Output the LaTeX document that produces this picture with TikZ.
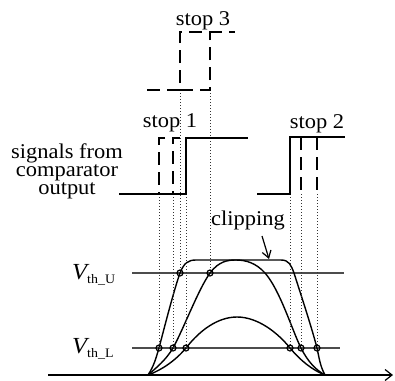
\documentclass[tikz,border=0pt]{standalone}
\usepackage{fontspec}
\setmainfont{Liberation Serif}[FakeStretch=1.07]
\usetikzlibrary{arrows.meta}
\begin{document}
\begin{tikzpicture}[x=1pt,y=-1pt,
  sig/.style={line width=1.8pt, line join=miter},
  dsig/.style={line width=1.8pt, dash pattern=on 13pt off 7pt},
  guide/.style={line width=0.9pt, dash pattern=on 0.9pt off 2.1pt, black!80},
  thr/.style={line width=1.1pt, black!70},
  curvestyle/.style={line width=1.4pt},
  dotmark/.style={line width=1.2pt},
  lbl/.style={font=\fontsize{21}{18}\selectfont, inner sep=0pt},
]
\useasboundingbox (0,0) rectangle (395,380);

% axis
\coordinate (ax0) at (48,375);
\coordinate (ax1) at (393,375);
\draw[line width=2pt, -{Straight Barb[length=7pt,width=11pt,line width=1.2pt]}] (ax0) -- (ax1);

% thresholds
\coordinate (tu0) at (132,273); \coordinate (tu1) at (344,273);
\coordinate (tl0) at (132,348); \coordinate (tl1) at (340,348);
\draw[thr] (tu0) -- (tu1);
\draw[thr] (tl0) -- (tl1);

% curves
\draw[curvestyle] (148,375) .. controls (154,366) and (156,358) .. (159,348)
  .. controls (165,325) and (174,290) .. (180,273)
  .. controls (184,263) and (188,260) .. (196,260) -- (281,260)
  .. controls (289,260) and (291,265) .. (294,273)
  .. controls (300,292) and (311,325) .. (317,348)
  .. controls (319,357) and (320,366) .. (325,375);
\draw[curvestyle] (148,375) .. controls (156,368) and (166,360) .. (173,348)
  .. controls (184,328) and (198,290) .. (210,273)
  .. controls (219,261) and (228,260) .. (236,260)
  .. controls (246,260) and (256,263) .. (265,273)
  .. controls (280,290) and (292,330) .. (301,348)
  .. controls (308,362) and (316,370) .. (325,375);
\draw[curvestyle] (148,375) .. controls (162,370) and (176,360) .. (186,348)
  .. controls (200,330) and (218,317) .. (237,317)
  .. controls (258,317) and (278,333) .. (290,348)
  .. controls (300,360) and (312,370) .. (325,375);

% marker points
\coordinate (mL1) at (159,348); \coordinate (mL2) at (173,348); \coordinate (mL3) at (186,348);
\coordinate (mR1) at (290,348); \coordinate (mR2) at (301,348); \coordinate (mR3) at (317,348);
\coordinate (mU1) at (180,273); \coordinate (mU2) at (210,273);

% signal edge points
\coordinate (e1a) at (159,194); \coordinate (e1b) at (173,194); \coordinate (e1c) at (186,194);
\coordinate (e2a) at (290,194); \coordinate (e2b) at (301,194); \coordinate (e2c) at (317,194);
\coordinate (e3a) at (180,90); \coordinate (e3b) at (210,90);

% guides
\foreach \a/\b in {e1a/mL1,e1b/mL2,e1c/mL3,e2a/mR1,e2b/mR2,e2c/mR3,e3a/mU1,e3b/mU2}
  \draw[guide] (\a) -- (\b);

% markers
\foreach \m in {mL1,mL2,mL3,mR1,mR2,mR3,mU1,mU2}
  \draw[dotmark] (\m) circle (3pt);

% stop 1 signals
\draw[sig] (119,194) -- (e1c) -- (186,138) -- (248,138);
\draw[dsig] (165,138) -- (159,138) -- (e1a);
\draw[dsig] (180,138) -- (173,138) -- (e1b);

% stop 2 signals
\draw[sig] (257,194) -- (e2a) -- (290,137) -- (345,137);
\draw[dsig] (301,137) -- (e2b);
\draw[dsig] (317,137) -- (e2c);

% stop 3 signals
\draw[dsig] (147,90) -- (e3a) -- (180,32) -- (235,32);
\draw[dsig] (e3a) -- (e3b) -- (210,32);

% labels
\node[lbl, anchor=base] (st3) at (203,25) {stop 3};
\node[lbl, anchor=base] (st1) at (170,127) {stop 1};
\node[lbl, anchor=base] (st2) at (317,128) {stop 2};
\node[lbl, anchor=base] (clip) at (248,225) {clipping};
\node[lbl, align=center, anchor=base] (sigl) at (67,194) {signals from\\comparator\\output};
\node[inner sep=0pt, anchor=base west] (vu) at (72,279)
  {\fontsize{23}{23}\selectfont\itshape V\upshape\raisebox{-4pt}{\fontsize{13}{13}\selectfont th\_U}};
\node[inner sep=0pt, anchor=base west] (vl) at (72,353)
  {\fontsize{23}{23}\selectfont\itshape V\upshape\raisebox{-4pt}{\fontsize{13}{13}\selectfont th\_L}};

% clipping arrow
\coordinate (ca) at (262,236);
\coordinate (cb) at (269,259);
\draw[line width=1.2pt, -{Straight Barb[length=7pt,width=9pt]}] (ca) -- (cb);
\end{tikzpicture}
\end{document}
